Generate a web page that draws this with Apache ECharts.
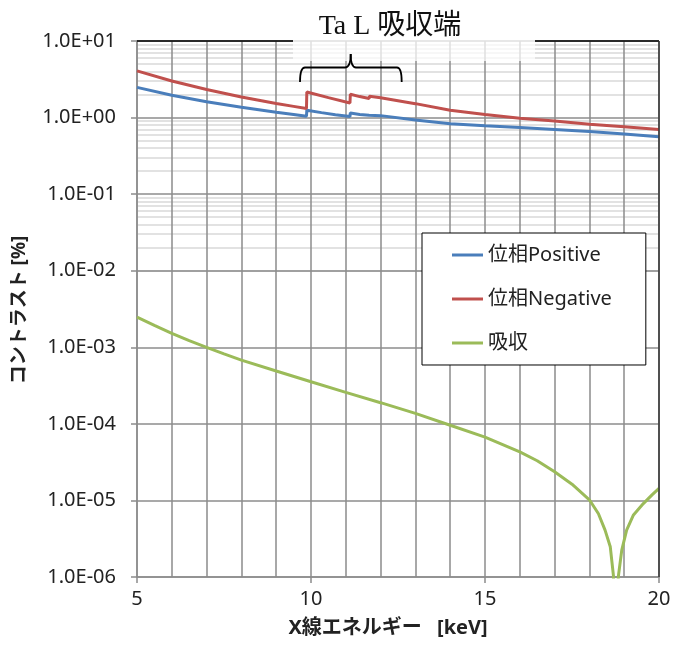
<!DOCTYPE html>
<html>
<head>
<meta charset="utf-8">
<script src="https://cdn.jsdelivr.net/npm/echarts@6/dist/echarts.min.js"></script>
<style>
html,body{margin:0;padding:0;background:#fff;}
#c{width:674px;height:648px;}
</style>
</head>
<body>
<div id="c"></div>
<script>
// ---- data ----
const seriesNames = ['位相Positive', '位相Negative', '吸収'];

const posX = [5, 6, 7, 8, 9, 9.5, 9.87, 9.88, 10.3, 10.7, 11.12, 11.13, 11.4, 11.67, 11.68, 12, 13, 14, 15, 16, 17, 18, 19, 20];
const posY = [2.48, 1.96, 1.61, 1.36, 1.17, 1.10, 1.04, 1.25, 1.16, 1.09, 1.03, 1.15, 1.10, 1.07, 1.10, 1.06, 0.93, 0.83, 0.78, 0.74, 0.70, 0.66, 0.61, 0.56];

const negX = [5, 6, 7, 8, 9, 9.5, 9.87, 9.88, 10.5, 11.12, 11.13, 11.4, 11.67, 11.68, 12, 13, 14, 15, 16, 17, 18, 19, 20];
const negY = [4.07, 3.0, 2.33, 1.86, 1.53, 1.40, 1.31, 2.16, 1.82, 1.55, 2.02, 1.88, 1.77, 1.90, 1.82, 1.52, 1.25, 1.10, 0.98, 0.90, 0.82, 0.76, 0.70];

const absX = [5, 5.5, 6, 6.5, 7, 7.5, 8, 9, 10, 11, 12, 13, 14, 15, 16, 16.5, 17, 17.5, 18, 18.26, 18.45, 18.6, 18.69, 18.75, 18.83, 18.93, 19.07, 19.26, 19.55, 19.8, 20];
const absY = [2.47e-3, 1.93e-3, 1.52e-3, 1.22e-3, 1.0e-3, 8.2e-4, 6.8e-4, 4.9e-4, 3.55e-4, 2.58e-4, 1.89e-4, 1.37e-4, 9.6e-5, 6.7e-5, 4.3e-5, 3.3e-5, 2.37e-5, 1.63e-5, 1.02e-5, 6.7e-6, 4.1e-6, 2.48e-6, 1.05e-6, 1e-8, 1.0e-6, 2.24e-6, 4.1e-6, 6.4e-6, 9.1e-6, 1.18e-5, 1.44e-5];

const xTicks = [5, 10, 15, 20];
const yDecades = [-6, -5, -4, -3, -2, -1, 0, 1];
const minorMults = [2, 3, 4, 5, 6, 7, 8, 9];

const titleText = 'Ta L 吸収端';
const xName = 'X線エネルギー\u2002 [keV]';
const yName = 'コントラスト [%]';

// ---- build ----
const zip = (xs, ys) => xs.map((x, i) => [x, ys[i]]);
const minorLines = [];
yDecades.slice(0, -1).forEach(e => minorMults.forEach(m => minorLines.push({ yAxis: m * Math.pow(10, e) })));

const FONT = '"Noto Sans", "Noto Sans CJK JP", sans-serif';
const chart = echarts.init(document.getElementById('c'), null, { renderer: 'canvas' });

function fmtExp(v) {
  const e = Math.round(Math.log10(v));
  const s = e < 0 ? '-' : '+';
  const a = Math.abs(e);
  return '1.0E' + s + (a < 10 ? '0' + a : a);
}

const braceStyle = { stroke: '#000', lineWidth: 1.8, fill: null };

chart.setOption({
  animation: false,
  backgroundColor: '#fff',
  grid: { left: 137, right: 15, top: 41, bottom: 71 },
  xAxis: {
    type: 'value', min: 5, max: 20, interval: 5, z: 1,
    axisLine: { show: true, lineStyle: { color: '#8c8c8c', width: 1.5 } },
    axisTick: { show: true, length: 6, lineStyle: { color: '#8c8c8c', width: 1.5 } },
    minorTick: { show: false, splitNumber: 5 },
    splitLine: { show: true, lineStyle: { color: '#8c8c8c', width: 1.5 } },
    minorSplitLine: { show: true, lineStyle: { color: '#8c8c8c', width: 1.5 } },
    axisLabel: { fontSize: 20, color: '#222', fontFamily: FONT, margin: 12,
      formatter: v => xTicks.indexOf(v) >= 0 ? String(v) : '' }
  },
  yAxis: {
    type: 'log', logBase: 10, min: 1e-6, max: 10, z: 1,
    axisLine: { show: true, lineStyle: { color: '#8c8c8c', width: 1.5 } },
    axisTick: { show: true, length: 6, lineStyle: { color: '#8c8c8c', width: 1.5 } },
    splitLine: { show: true, lineStyle: { color: '#8c8c8c', width: 1.5 } },
    axisLabel: { fontSize: 20, color: '#222', fontFamily: FONT, margin: 21, formatter: fmtExp }
  },
  legend: {
    data: seriesNames, orient: 'vertical', left: 422, top: 233,
    icon: 'rect', itemWidth: 31, itemHeight: 3, itemGap: 24,
    padding: [12, 34, 12, 30],
    backgroundColor: '#fff', borderColor: '#000', borderWidth: 1, borderRadius: 0,
    textStyle: { fontSize: 20, color: '#222', fontFamily: FONT }
  },
  series: [
    { name: 'minor', type: 'line', data: [], z: 0, silent: true,
      markLine: { silent: true, z: 0.5, symbol: 'none', label: { show: false }, animation: false,
        lineStyle: { color: '#d9d9d9', width: 1.5, type: 'solid' }, data: minorLines } },
    { name: seriesNames[0], type: 'line', data: zip(posX, posY), showSymbol: false, z: 3,
      lineStyle: { color: '#4a7ebb', width: 3 }, itemStyle: { color: '#4a7ebb' } },
    { name: seriesNames[1], type: 'line', data: zip(negX, negY), showSymbol: false, z: 3,
      lineStyle: { color: '#c0504d', width: 3 }, itemStyle: { color: '#c0504d' } },
    { name: seriesNames[2], type: 'line', data: zip(absX, absY), showSymbol: false, z: 3,
      lineStyle: { color: '#9bbb59', width: 3 }, itemStyle: { color: '#9bbb59' } }
  ],
  graphic: [
    { type: 'line', z: 50, shape: { x1: 137, y1: 41, x2: 293, y2: 41 }, style: { stroke: '#000', lineWidth: 1.5 } },
    { type: 'line', z: 50, shape: { x1: 535, y1: 41, x2: 659, y2: 41 }, style: { stroke: '#000', lineWidth: 1.5 } },
    { type: 'line', z: 50, shape: { x1: 659, y1: 41, x2: 659, y2: 577 }, style: { stroke: '#333', lineWidth: 1.5 } },
    { type: 'rect', z: 60, shape: { x: 293, y: 0, width: 242, height: 61 }, style: { fill: 'rgba(255,255,255,0.72)' } },
    { type: 'text', z: 70, x: 390, y: 27,
      style: { text: titleText, fontSize: 28, fill: '#111', align: 'center', verticalAlign: 'middle',
        fontFamily: '"Liberation Serif", "DejaVu Serif", "Noto Sans CJK JP", serif' } },
    { type: 'bezierCurve', z: 70, shape: { x1: 300, y1: 82, x2: 305, y2: 67.5, cpx1: 300, cpy1: 67.5 }, style: braceStyle },
    { type: 'line', z: 70, shape: { x1: 305, y1: 67.5, x2: 345, y2: 67.5 }, style: braceStyle },
    { type: 'bezierCurve', z: 70, shape: { x1: 345, y1: 67.5, x2: 350.7, y2: 54, cpx1: 350.7, cpy1: 67.5 }, style: braceStyle },
    { type: 'bezierCurve', z: 70, shape: { x1: 350.7, y1: 54, x2: 356, y2: 67.5, cpx1: 350.7, cpy1: 67.5 }, style: braceStyle },
    { type: 'line', z: 70, shape: { x1: 356, y1: 67.5, x2: 397, y2: 67.5 }, style: braceStyle },
    { type: 'bezierCurve', z: 70, shape: { x1: 397, y1: 67.5, x2: 401.7, y2: 82, cpx1: 401.7, cpy1: 67.5 }, style: braceStyle },
    { type: 'text', z: 70, x: 388, y: 628,
      style: { text: xName, fontSize: 20, fontWeight: 'bold', fill: '#222', align: 'center', verticalAlign: 'middle', fontFamily: FONT } },
    { type: 'text', z: 70, x: 20, y: 310, rotation: Math.PI / 2,
      style: { text: yName, fontSize: 19, fontWeight: 'bold', fill: '#222', align: 'center', verticalAlign: 'middle', fontFamily: FONT } }
  ]
});
</script>
</body>
</html>
